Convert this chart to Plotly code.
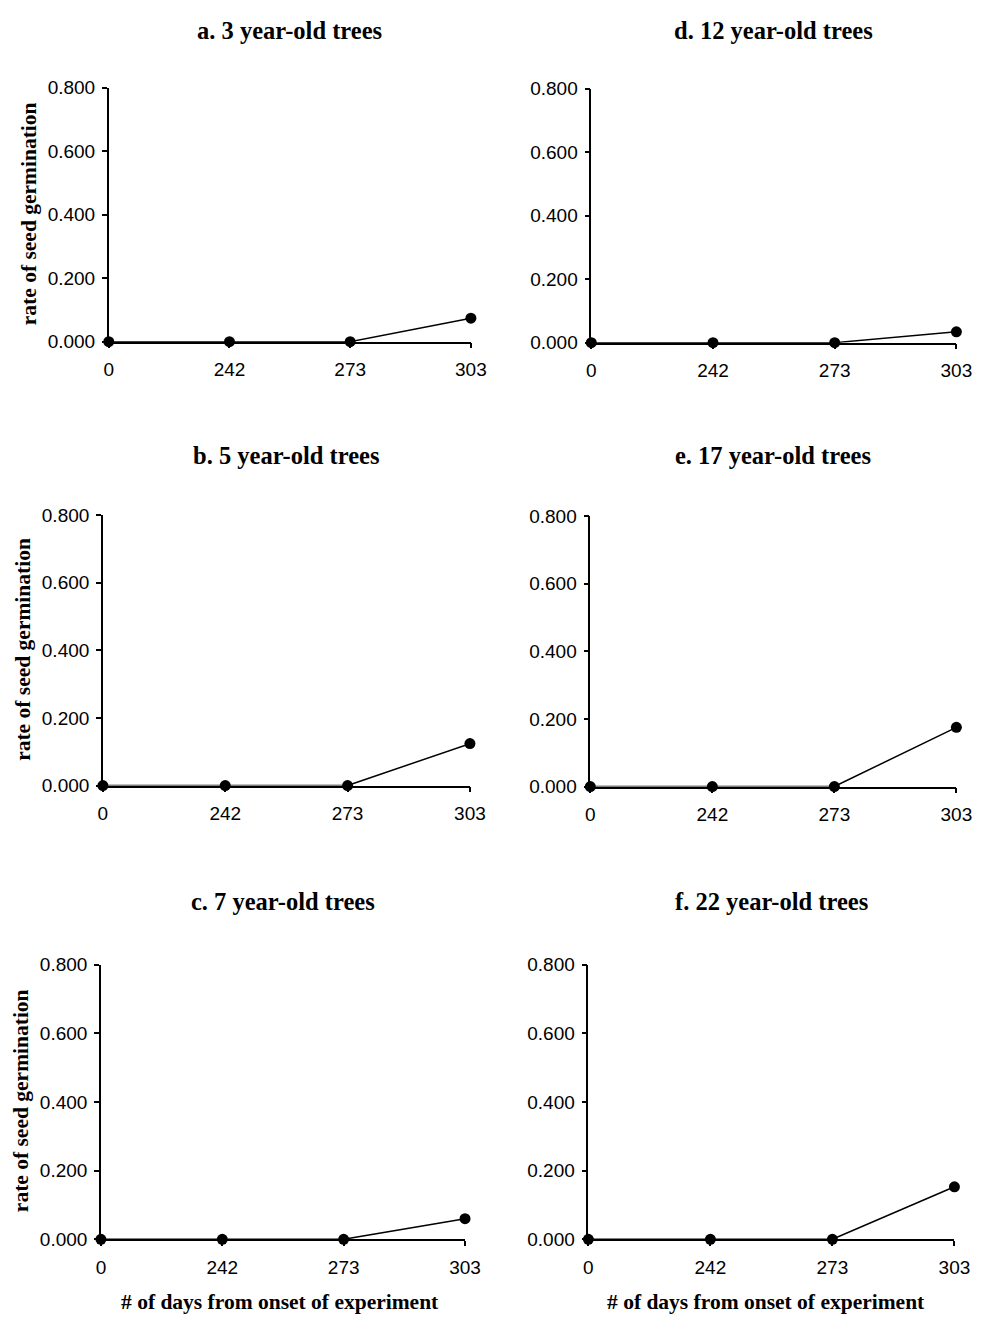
import plotly.graph_objects as go

days = ["0", "242", "273", "303"]
panel_titles = ["a. 3 year-old trees", "b. 5 year-old trees", "c. 7 year-old trees",
                "d. 12 year-old trees", "e. 17 year-old trees", "f. 22 year-old trees"]
rate_a = [0.0, 0.0, 0.0, 0.074]
rate_b = [0.0, 0.0, 0.0, 0.124]
rate_c = [0.0, 0.0, 0.0, 0.060]
rate_d = [0.0, 0.0, 0.0, 0.034]
rate_e = [0.0, 0.0, 0.0, 0.175]
rate_f = [0.0, 0.0, 0.0, 0.153]
y_ticks = [0.0, 0.2, 0.4, 0.6, 0.8]
y_title = "rate of seed germination"
x_title = "# of days from onset of experiment"

W, H = 990, 1330


def px(x):
    return x / W


def py(y):
    return 1 - y / H


# pixel boxes in the page: (left, right, top, bottom)
boxes = [
    (106, 476, 79, 337),   # a
    (100, 475, 513, 788),  # b
    (98, 470, 970, 1249),  # c
    (599, 972, 80, 338),   # d
    (598, 972, 514, 789),  # e
    (596, 970, 970, 1249), # f
]
series = [rate_a, rate_b, rate_c, rate_d, rate_e, rate_f]
title_y = [21, 453, 906, 21, 453, 906]
ytitle_x = [24, 19, 16.5]

serif = "Liberation Serif"
sans = "Liberation Sans"

fig = go.Figure()
layout = dict(
    width=W, height=H, margin=dict(l=0, r=0, t=0, b=0),
    paper_bgcolor="white", plot_bgcolor="white", showlegend=False,
    annotations=[],
)

for i, (vals, box) in enumerate(zip(series, boxes)):
    n = i + 1
    xa = "x" if n == 1 else f"x{n}"
    ya = "y" if n == 1 else f"y{n}"
    fig.add_trace(go.Scatter(
        x=days, y=vals, xaxis=xa, yaxis=ya, mode="lines+markers",
        line=dict(color="black", width=1.5),
        marker=dict(color="black", size=11),
        cliponaxis=False,
    ))
    l, r, t, b = box
    layout["xaxis" if n == 1 else f"xaxis{n}"] = dict(
        domain=[px(l), px(r)], anchor=ya, type="category", range=[0, 3],
        showline=True, linecolor="black", linewidth=1.5,
        ticks="outside", ticklen=5, tickcolor="black", tickwidth=1.5,
        showgrid=False, zeroline=False,
        tickfont=dict(family=sans, size=19, color="black"),
        ticklabelstandoff=5,
    )
    layout["yaxis" if n == 1 else f"yaxis{n}"] = dict(
        domain=[py(b), py(t)], anchor=xa, range=[0, 0.8],
        tickvals=y_ticks, tickformat=".3f",
        showline=True, linecolor="black", linewidth=1.5,
        ticks="outside", ticklen=5, tickcolor="black", tickwidth=1.5,
        showgrid=False, zeroline=False,
        tickfont=dict(family=sans, size=19, color="black"),
        ticklabelstandoff=3,
    )
    layout["annotations"].append(dict(
        text=f"<b>{panel_titles[i]}</b>", xref="paper", yref="paper",
        x=px((l + r) / 2), y=py(title_y[i]), xanchor="center", yanchor="middle",
        showarrow=False, font=dict(family=serif, size=24.5, color="black"),
    ))
    if i < 3:
        layout["annotations"].append(dict(
            text=f"<b>{y_title}</b>", xref="paper", yref="paper",
            x=px(ytitle_x[i]), y=py((t + b) / 2 - 1), xanchor="center", yanchor="middle",
            textangle=-90, showarrow=False,
            font=dict(family=serif, size=21.5, color="black"),
        ))

for cx in (281, 778):
    layout["annotations"].append(dict(
        text=f"<b>{x_title}</b>", xref="paper", yref="paper",
        x=px(cx), y=py(1313), xanchor="center", yanchor="middle",
        showarrow=False, font=dict(family=serif, size=21.5, color="black"),
    ))

fig.update_layout(**layout)
fig.write_html(
    "out.html",
    post_script="document.body.style.margin='0';document.body.style.overflow='hidden';",
)
